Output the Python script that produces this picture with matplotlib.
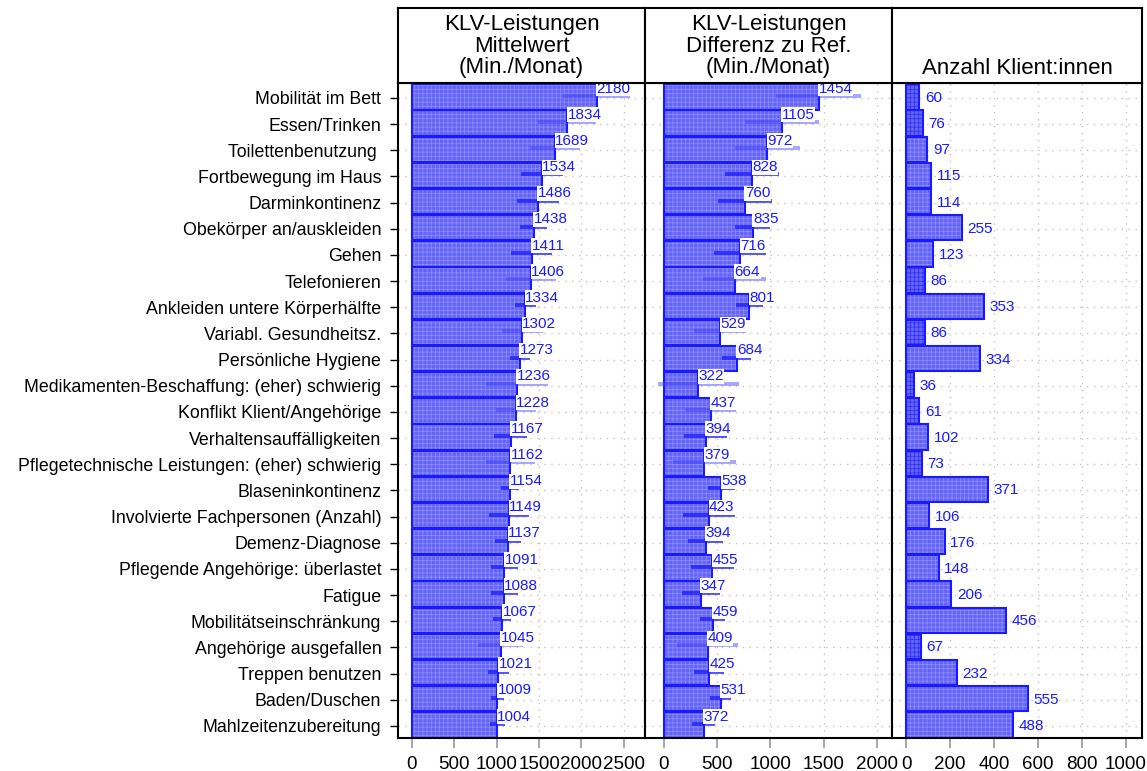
import matplotlib
matplotlib.use('Agg')
import matplotlib.pyplot as plt
import numpy as np

# data
cats = ["Mobilität im Bett", "Essen/Trinken", "Toilettenbenutzung ", "Fortbewegung im Haus",
        "Darminkontinenz", "Obekörper an/auskleiden", "Gehen", "Telefonieren",
        "Ankleiden untere Körperhälfte", "Variabl. Gesundheitsz.", "Persönliche Hygiene",
        "Medikamenten-Beschaffung: (eher) schwierig", "Konflikt Klient/Angehörige",
        "Verhaltensauffälligkeiten", "Pflegetechnische Leistungen: (eher) schwierig",
        "Blaseninkontinenz", "Involvierte Fachpersonen (Anzahl)", "Demenz-Diagnose",
        "Pflegende Angehörige: überlastet", "Fatigue", "Mobilitätseinschränkung",
        "Angehörige ausgefallen", "Treppen benutzen", "Baden/Duschen", "Mahlzeitenzubereitung"]
mean = [2180, 1834, 1689, 1534, 1486, 1438, 1411, 1406, 1334, 1302, 1273, 1236, 1228,
        1167, 1162, 1154, 1149, 1137, 1091, 1088, 1067, 1045, 1021, 1009, 1004]
diff = [1454, 1105, 972, 828, 760, 835, 716, 664, 801, 529, 684, 322, 437,
        394, 379, 538, 423, 394, 455, 347, 459, 409, 425, 531, 372]
n_klient = [60, 76, 97, 115, 114, 255, 123, 86, 353, 86, 334, 36, 61,
            102, 73, 371, 106, 176, 148, 206, 456, 67, 232, 555, 488]
err_mean = [398, 342, 295, 248, 248, 160, 238, 297, 124, 240, 118, 365, 240,
            195, 290, 105, 235, 153, 160, 160, 105, 260, 125, 80, 88]
err_diff = [400, 348, 303, 253, 252, 165, 243, 295, 127, 243, 136, 380, 243,
            202, 293, 127, 243, 164, 203, 175, 116, 282, 141, 97, 108]

titles = ["KLV-Leistungen\nMittelwert\n(Min./Monat)",
          "KLV-Leistungen\nDifferenz zu Ref.\n(Min./Monat)",
          "Anzahl Klient:innen"]
xticks = [[0, 500, 1000, 1500, 2000, 2500],
          [0, 500, 1000, 1500, 2000],
          [0, 200, 400, 600, 800, 1000]]
xlims = [(-165, 2750), (-178, 2141), (-64, 1073)]

plt.rcParams['font.family'] = ['Liberation Sans', 'DejaVu Sans']
plt.rcParams['hatch.linewidth'] = 0.5

FILL = '#6464f6'
HATCH = '#8e8eff'
HATCH_FEW = '#2a2aff'
EDGE = '#1a1aff'
TXT = '#1a1aff'

W, H = 1147, 771
def box(x0, x1, y0, y1):
    return [x0 / W, 1 - y1 / H, (x1 - x0) / W, (y1 - y0) / H]

fig = plt.figure(figsize=(11.47, 7.71), dpi=100)
panels = [(398, 645), (645, 892), (892, 1142)]
y = np.arange(len(cats))
values = [mean, diff, n_klient]
errors = [err_mean, err_diff, None]

for k, (x0, x1) in enumerate(panels):
    ax = fig.add_axes(box(x0, x1, 83, 738))
    hx = fig.add_axes(box(x0, x1, 8, 83))
    v = np.array(values[k])

    ax.set_axisbelow(True)
    ax.grid(True, color='#c4c4c4', linestyle=(0, (1, 4)), linewidth=1)

    ax.barh(y - 0.04, v, height=0.97, color=FILL, edgecolor='none', zorder=2)
    if k == 2:
        few = np.array(n_klient) < 90
        ax.barh(y[~few] - 0.04, v[~few], height=0.97, facecolor='none', edgecolor=HATCH,
                linewidth=0, hatch='++++', zorder=2.1)
        ax.barh(y[few] - 0.04, v[few], height=0.97, facecolor='none', edgecolor=HATCH_FEW,
                linewidth=0, hatch='++++', zorder=2.1)
    else:
        ax.barh(y - 0.04, v, height=0.97, facecolor='none', edgecolor=HATCH,
                linewidth=0, hatch='++++', zorder=2.1)
    ax.barh(y - 0.04, v, height=0.97, facecolor='none', edgecolor=EDGE, linewidth=1.5, zorder=2.2)

    if errors[k] is not None:
        e = np.array(errors[k])
        light = np.array(n_klient) < 100
        ax.hlines(y[light] - 0.08, (v - e)[light], (v + e)[light], color='#3a3aff',
                  linewidth=2.8, alpha=0.45, zorder=3)
        ax.hlines(y[~light] - 0.08, (v - e)[~light], (v + e)[~light], color='#1a1aff',
                  linewidth=2.8, alpha=0.75, zorder=3)
        for i, val in enumerate(v):
            ax.text(val, i - 0.36, str(val), ha='left', va='center', color=TXT,
                    fontsize=11, zorder=4,
                    bbox=dict(facecolor='white', edgecolor='none', pad=0.3))
    else:
        for i, val in enumerate(v):
            ax.annotate(str(val), (val, i), xytext=(4, 0), textcoords='offset points',
                        ha='left', va='center', color=TXT, fontsize=11, zorder=4)

    ax.set_xlim(*xlims[k])
    ax.set_ylim(24.46, -0.573)
    ax.set_xticks(xticks[k])
    ax.set_yticks(y)
    ax.tick_params(axis='x', direction='out', length=7, width=1.2, color='#999999',
                   labelsize=13.5, pad=6)
    if k == 0:
        ax.set_yticklabels(cats)
        ax.tick_params(axis='y', direction='out', length=6, width=1, labelsize=12.8, pad=6)
    else:
        ax.set_yticklabels([])
        ax.tick_params(axis='y', length=0)
    for s in ax.spines.values():
        s.set_linewidth(1.5)

    hx.set_xticks([])
    hx.set_yticks([])
    for s in hx.spines.values():
        s.set_linewidth(1.5)
    hx.text(0.5, 0.06, titles[k], ha='center', va='bottom', fontsize=16,
            linespacing=1.05, transform=hx.transAxes)

fig.savefig('out.png', dpi=100)
